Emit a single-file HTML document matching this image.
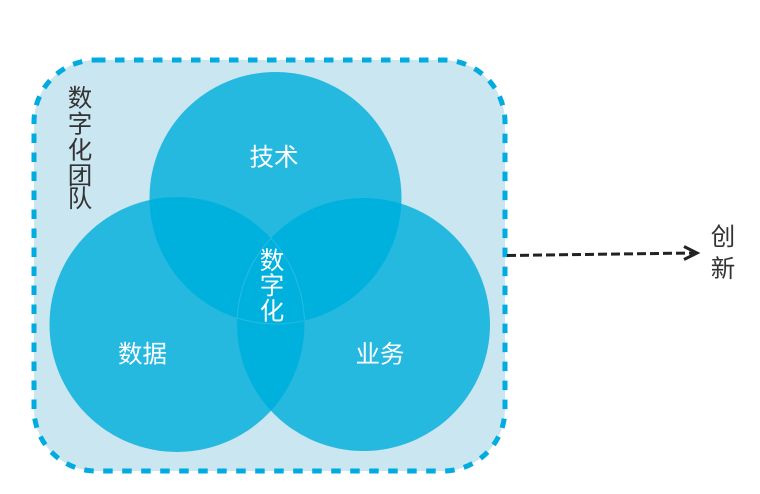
<!DOCTYPE html>
<html><head><meta charset="utf-8"><style>
html,body{margin:0;padding:0;background:#fff}
svg{display:block}
text{font-family:"Liberation Sans","Noto Sans CJK SC",sans-serif;font-size:24.500px;text-anchor:middle}
</style></head><body>
<svg width="760" height="494" viewBox="0 0 760 494" xmlns="http://www.w3.org/2000/svg">
<defs>
<clipPath id="t"><circle cx="275.5" cy="198" r="126"/></clipPath>
<clipPath id="l"><circle cx="177" cy="324.5" r="127.5"/></clipPath>
<clipPath id="r"><circle cx="363.5" cy="324.5" r="126.5"/></clipPath>
<filter id="s" x="-5%" y="-5%" width="110%" height="110%"><feGaussianBlur stdDeviation="0.3"/></filter>
</defs>
<g filter="url(#s)">
<rect x="34" y="60" width="471" height="411" rx="62" fill="#c9e6f1"/>
<rect x="34" y="60" width="471" height="411" rx="62" fill="none" stroke="#00abe0" stroke-width="5" stroke-dasharray="9.500 9.500"/>
<circle cx="275.5" cy="198" r="126" fill="#25b9e0"/>
<circle cx="177" cy="324.5" r="127.5" fill="#25b9e0"/>
<circle cx="363.5" cy="324.5" r="126.5" fill="#25b9e0"/>
<g clip-path="url(#t)"><circle cx="177" cy="324.5" r="127.5" fill="#03b1de"/><circle cx="363.5" cy="324.5" r="126.5" fill="#03b1de"/></g>
<g clip-path="url(#l)"><circle cx="363.5" cy="324.5" r="126.5" fill="#03b1de"/></g>
<g fill="none" stroke="#2dbde2" stroke-width="0.8">
<g clip-path="url(#t)"><circle cx="177" cy="324.5" r="127.5" clip-path="url(#r)"/><circle cx="363.5" cy="324.5" r="126.5" clip-path="url(#l)"/></g>
<g clip-path="url(#l)"><circle cx="275.5" cy="198" r="126" clip-path="url(#r)"/></g>
</g>
<line x1="507" y1="255.5" x2="694" y2="253" stroke="#222" stroke-width="3" stroke-dasharray="9 4"/>
<path d="M684 246.500L697 253L684 259.500" fill="none" stroke="#222" stroke-width="3"/>
</g>
<g fill="#fff">
<text x="274" y="165.500">技术</text>
<text x="142.500" y="362.500">数据</text>
<text x="380" y="362.500">业务</text>
<text x="272" y="269">数</text>
<text x="272" y="294">字</text>
<text x="272" y="319.500">化</text>
</g>
<g fill="#333">
<text x="80" y="106.500">数</text>
<text x="80" y="132.500">字</text>
<text x="80" y="158.500">化</text>
<text x="80" y="184">团</text>
<text x="80" y="207">队</text>
<text x="723" y="245">创</text>
<text x="723" y="277">新</text>
</g>
</svg>
</body></html>
